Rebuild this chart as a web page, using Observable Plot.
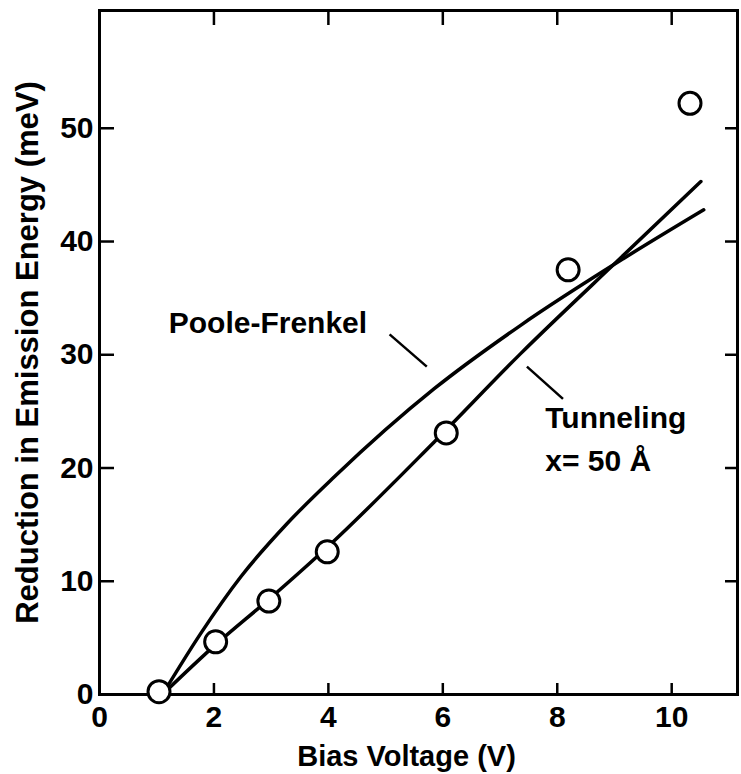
<!DOCTYPE html>
<html>
<head>
<meta charset="utf-8">
<script src="https://cdn.jsdelivr.net/npm/d3@7"></script>
<script src="https://cdn.jsdelivr.net/npm/@observablehq/plot@0.6"></script>
<style>
  html, body { margin: 0; padding: 0; background: #fff; }
  #chart svg { display: block; }
</style>
</head>
<body>
<div id="chart"></div>
<script>
// Axis ticks
const xTickLabels = [0, 2, 4, 6, 8, 10];
const yTickLabels = [0, 10, 20, 30, 40, 50];
const xInnerTicks = [2, 4, 6, 8, 10];
const yInnerTicks = [10, 20, 30, 40, 50];

// Measured points (open circles)
const biasV = [1.04, 2.03, 2.96, 3.98, 6.06, 8.19, 10.32];
const reduction = [0.25, 4.65, 8.25, 12.6, 23.1, 37.5, 52.2];

// Poole-Frenkel fit curve
const pfV = [1.1, 1.77, 2.47, 3.28, 4.10, 5.85, 7.36, 9.16, 10.56];
const pfE = [0, 5.4, 10.4, 15.1, 19.2, 27.0, 32.6, 38.5, 42.8];

// Tunneling fit curve (x = 50 Å)
const tunV = [1.1, 2.03, 2.96, 3.98, 5.85, 7.36, 9.16, 10.51];
const tunE = [0, 4.4, 8.4, 13.0, 22.3, 30.1, 38.8, 45.3];

// Annotations
const labelText = ["Poole-Frenkel", "Tunneling", "x= 50 Å"];
const labelV = [1.21, 7.79, 7.79];
const labelE = [32.8, 24.4, 20.6];
const leaderV1 = [5.07, 7.47];
const leaderE1 = [31.8, 28.95];
const leaderV2 = [5.72, 8.10];
const leaderE2 = [28.95, 26.1];

const xTitle = "Bias Voltage (V)";
const yTitle = "Reduction in Emission Energy (meV)";

const W = 741, H = 774;
const mL = 99, mR = 4, mT = 10, mB = 80;
const innerW = W - mL - mR, innerH = H - mT - mB;

const points = biasV.map((v, i) => ({v, e: reduction[i]}));
const pf = pfV.map((v, i) => ({v, e: pfE[i]}));
const tun = tunV.map((v, i) => ({v, e: tunE[i]}));
const labels = labelText.map((t, i) => ({t, v: labelV[i], e: labelE[i]}));
const leaders = leaderV1.map((v, i) => ({v1: v, e1: leaderE1[i], v2: leaderV2[i], e2: leaderE2[i]}));

const font = "'Liberation Sans', Arial, Helvetica, sans-serif";

const chart = Plot.plot({
  width: W,
  height: H,
  marginLeft: mL,
  marginRight: mR,
  marginTop: mT,
  marginBottom: mB,
  style: {fontFamily: font, fontSize: "30px", fontWeight: "bold", color: "black", background: "white"},
  x: {domain: [0, 11.15], label: null},
  y: {domain: [0, 60.4], label: null},
  marks: [
    Plot.axisX(xTickLabels, {tickSize: 0, tickPadding: 11, tickFormat: d => String(d), fontSize: 30, fontWeight: "bold"}),
    Plot.axisY(yTickLabels, {tickSize: 0, tickPadding: 6, tickFormat: d => String(d), fontSize: 30, fontWeight: "bold"}),
    // inward ticks
    Plot.tickX(xInnerTicks, {x: d => d, insetTop: innerH - 11, stroke: "black", strokeWidth: 2.5}),
    Plot.tickX(xInnerTicks, {x: d => d, insetBottom: innerH - 15, stroke: "black", strokeWidth: 2.5}),
    Plot.tickY(yInnerTicks, {y: d => d, insetRight: innerW - 15, stroke: "black", strokeWidth: 2.5}),
    Plot.tickY(yInnerTicks, {y: d => d, insetLeft: innerW - 12, stroke: "black", strokeWidth: 2.5}),
    Plot.frame({stroke: "black", strokeWidth: 3}),
    // curves
    Plot.line(pf, {x: "v", y: "e", curve: "monotone-x", stroke: "black", strokeWidth: 3.5}),
    Plot.line(tun, {x: "v", y: "e", curve: "monotone-x", stroke: "black", strokeWidth: 3.5}),
    Plot.link(leaders, {x1: "v1", y1: "e1", x2: "v2", y2: "e2", stroke: "black", strokeWidth: 2.5}),
    // data points
    Plot.dot(points, {x: "v", y: "e", r: 11, fill: "white", stroke: "black", strokeWidth: 3}),
    // labels
    Plot.text(labels, {x: "v", y: "e", text: "t", textAnchor: "start", lineAnchor: "middle", fontSize: 30, fontWeight: "bold", fill: "black"}),
    Plot.text([xTitle], {frameAnchor: "bottom", textAnchor: "middle", dx: -12, dy: 62, lineAnchor: "middle", fontSize: 29, fontWeight: "bold", fill: "black"}),
    Plot.text([yTitle], {frameAnchor: "left", textAnchor: "middle", dx: -71.6, rotate: -90, lineAnchor: "middle", fontSize: 31, fontWeight: "bold", fill: "black"})
  ]
});

document.getElementById("chart").appendChild(chart);
</script>
</body>
</html>
